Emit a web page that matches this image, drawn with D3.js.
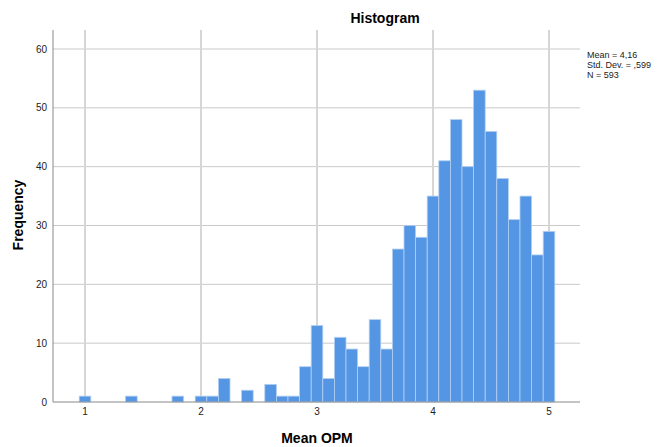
<!DOCTYPE html>
<html>
<head>
<meta charset="utf-8">
<script src="https://cdn.jsdelivr.net/npm/d3@7"></script>
<style>
  body { margin: 0; background: #fff; }
  svg { font-family: "Liberation Sans", Arial, sans-serif; }
</style>
</head>
<body>
<div id="chart"></div>
<script>
// bin centres (width 0.1) and counts
const binCentres = [1.0,1.1,1.2,1.3,1.4,1.5,1.6,1.7,1.8,1.9,2.0,2.1,2.2,2.3,2.4,2.5,2.6,2.7,2.8,2.9,
  3.0,3.1,3.2,3.3,3.4,3.5,3.6,3.7,3.8,3.9,4.0,4.1,4.2,4.3,4.4,4.5,4.6,4.7,4.8,4.9,5.0];
const counts = [1,0,0,0,1,0,0,0,1,0,1,1,4,0,2,0,3,1,1,6,
  13,4,11,9,6,14,9,26,30,28,35,41,48,40,53,46,38,31,35,25,29];
const xTicks = [1, 2, 3, 4, 5];
const yTicks = [0, 10, 20, 30, 40, 50, 60];
const statLines = ['Mean = 4,16', 'Std. Dev. = ,599', 'N = 593'];
const binWidth = 0.1;

const W = 660, H = 447;
const margin = {t:30, r:80, b:45, l:53};

const svg = d3.select('#chart').append('svg')
  .attr('width', W).attr('height', H);

// 1 -> 85px, 5 -> 549px
const x = d3.scaleLinear().domain([1, 5]).range([85, 549]);
const y = d3.scaleLinear().domain([0, 60]).range([402, 49]);
const plotTop = margin.t, plotRight = W - margin.r, plotBottom = y(0);

// gridlines
svg.append('g').selectAll('line').data(yTicks.filter(d => d > 0)).join('line')
  .attr('x1', margin.l).attr('x2', plotRight)
  .attr('y1', d => y(d)).attr('y2', d => y(d))
  .style('stroke', '#c9c9c9').style('stroke-width', 1);

svg.append('g').selectAll('line').data(xTicks).join('line')
  .attr('x1', d => x(d)).attr('x2', d => x(d))
  .attr('y1', plotTop).attr('y2', plotBottom)
  .style('stroke', '#d6d6d6').style('stroke-width', 2);

// bars
svg.append('g').selectAll('rect')
  .data(binCentres.map((c, i) => ({c: c, n: counts[i]})).filter(d => d.n > 0))
  .join('rect')
  .attr('x', d => x(d.c - binWidth / 2))
  .attr('width', d => x(d.c + binWidth / 2) - x(d.c - binWidth / 2))
  .attr('y', d => y(d.n))
  .attr('height', d => y(0) - y(d.n))
  .style('fill', '#5496e4')
  .style('stroke', '#b4d0f2')
  .style('stroke-width', 0.8);

// axis lines
svg.append('line')
  .attr('x1', margin.l).attr('x2', margin.l)
  .attr('y1', plotTop).attr('y2', plotBottom)
  .style('stroke', '#8a8a8a').style('stroke-width', 1);
svg.append('line')
  .attr('x1', margin.l).attr('x2', plotRight)
  .attr('y1', plotBottom).attr('y2', plotBottom)
  .style('stroke', '#8a8a8a').style('stroke-width', 1);

// tick labels
svg.append('g').selectAll('text').data(yTicks).join('text')
  .attr('x', 47).attr('y', d => y(d)).attr('dy', '0.35em')
  .attr('text-anchor', 'end')
  .style('font-size', '10px').style('fill', '#222')
  .text(d => d);

svg.append('g').selectAll('text').data(xTicks).join('text')
  .attr('x', d => x(d)).attr('y', 415)
  .attr('text-anchor', 'middle')
  .style('font-size', '10px').style('fill', '#222')
  .text(d => d);

// titles
svg.append('text')
  .attr('x', 385).attr('y', 23)
  .attr('text-anchor', 'middle')
  .style('font-size', '14px').style('font-weight', 'bold')
  .text('Histogram');

svg.append('text')
  .attr('x', 317).attr('y', 443)
  .attr('text-anchor', 'middle')
  .style('font-size', '14px').style('font-weight', 'bold')
  .text('Mean OPM');

svg.append('text')
  .attr('transform', 'translate(23, 215) rotate(-90)')
  .attr('text-anchor', 'middle')
  .style('font-size', '14px').style('font-weight', 'bold')
  .text('Frequency');

// stats box
svg.append('g').selectAll('text').data(statLines).join('text')
  .attr('x', 587).attr('y', (d, i) => 58 + i * 10)
  .style('font-size', '9px').style('fill', '#222')
  .text(d => d);
</script>
</body>
</html>
